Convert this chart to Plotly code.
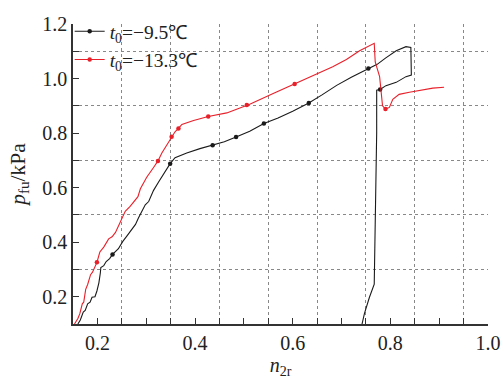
import plotly.graph_objects as go

# t0 = -9.5 C (black)
black_x = [0.160, 0.165, 0.171, 0.175, 0.180, 0.185, 0.189, 0.195, 0.199, 0.203, 0.206, 0.207, 0.213,
           0.218, 0.225, 0.231, 0.243, 0.252, 0.261, 0.269, 0.278, 0.284, 0.291, 0.298, 0.305, 0.315,
           0.325, 0.335, 0.343, 0.349, 0.359, 0.383, 0.410, 0.436, 0.460, 0.484, 0.512, 0.541, 0.570,
           0.600, 0.633, 0.660, 0.690, 0.720, 0.755, 0.773, 0.790, 0.812, 0.832, 0.842, 0.843, 0.832,
           0.812, 0.791, 0.779, 0.772, 0.772, 0.770, 0.767, 0.757, 0.747, 0.742]
black_y = [0.100, 0.115, 0.144, 0.150, 0.174, 0.180, 0.198, 0.200, 0.221, 0.251, 0.287, 0.307, 0.314,
           0.329, 0.340, 0.355, 0.376, 0.403, 0.424, 0.442, 0.465, 0.489, 0.513, 0.537, 0.549, 0.590,
           0.620, 0.650, 0.670, 0.688, 0.710, 0.727, 0.743, 0.755, 0.768, 0.786, 0.807, 0.835, 0.855,
           0.880, 0.910, 0.940, 0.975, 1.005, 1.037, 1.052, 1.075, 1.102, 1.117, 1.114, 1.013, 1.007,
           0.986, 0.974, 0.960, 0.957, 0.800, 0.500, 0.246, 0.197, 0.139, 0.100]
black_mark_x = [0.231, 0.349, 0.436, 0.484, 0.541, 0.633, 0.755, 0.779]
black_mark_y = [0.355, 0.688, 0.755, 0.786, 0.835, 0.910, 1.037, 0.960]

# t0 = -13.3 C (red)
red_x = [0.153, 0.160, 0.164, 0.169, 0.172, 0.176, 0.180, 0.186, 0.190, 0.194, 0.199, 0.205, 0.213,
         0.223, 0.230, 0.237, 0.243, 0.250, 0.257, 0.267, 0.278, 0.283, 0.288, 0.301, 0.315, 0.324,
         0.332, 0.342, 0.352, 0.359, 0.366, 0.373, 0.397, 0.427, 0.465, 0.506, 0.512, 0.560, 0.604,
         0.640, 0.682, 0.710, 0.737, 0.767, 0.769, 0.778, 0.781, 0.784, 0.790, 0.798, 0.805, 0.818,
         0.839, 0.866, 0.887, 0.910]
red_y = [0.100, 0.120, 0.138, 0.174, 0.180, 0.227, 0.245, 0.281, 0.290, 0.307, 0.326, 0.364, 0.382,
         0.412, 0.420, 0.436, 0.460, 0.489, 0.513, 0.531, 0.555, 0.567, 0.596, 0.638, 0.674, 0.698,
         0.727, 0.757, 0.787, 0.805, 0.817, 0.832, 0.846, 0.861, 0.874, 0.903, 0.906, 0.945, 0.980,
         1.010, 1.043, 1.070, 1.102, 1.129, 1.061, 1.007, 0.960, 0.900, 0.888, 0.894, 0.924, 0.942,
         0.950, 0.960, 0.965, 0.968]
red_mark_x = [0.199, 0.324, 0.352, 0.366, 0.427, 0.506, 0.604, 0.790]
red_mark_y = [0.326, 0.698, 0.787, 0.817, 0.861, 0.903, 0.980, 0.888]

legend_names = ["<i>t</i><sub>0</sub>=−9.5℃", "<i>t</i><sub>0</sub>=−13.3℃"]
colors = ["#1a1a1a", "#e8202a"]

x_tickvals = [round(0.15 + 0.05 * i, 2) for i in range(18)]
x_labels = {0.2: "0.2", 0.4: "0.4", 0.6: "0.6", 0.8: "0.8", 1.0: "1.0"}
x_ticktext = [x_labels.get(v, "") for v in x_tickvals]
x_gridvals = [0.25, 0.35, 0.45, 0.55, 0.65, 0.75, 0.85, 0.95, 1.0]
y_tickvals = [round(0.1 + 0.1 * i, 2) for i in range(12)]
y_ticktext = [("%.1f" % v) if round(v * 10) % 2 == 0 else "" for v in y_tickvals]
y_gridvals = [0.3, 0.5, 0.7, 0.9, 1.1, 1.2]

FONT = "Times New Roman, Liberation Serif, serif"

fig = go.Figure()
for xs, ys, mx, my, c, nm in [(black_x, black_y, black_mark_x, black_mark_y, colors[0], legend_names[0]),
                              (red_x, red_y, red_mark_x, red_mark_y, colors[1], legend_names[1])]:
    fig.add_trace(go.Scatter(x=xs, y=ys, mode="lines", line=dict(color=c, width=1.1),
                             showlegend=False, hoverinfo="skip"))
    fig.add_trace(go.Scatter(x=mx, y=my, mode="markers", marker=dict(color=c, size=4.5),
                             showlegend=False))
    fig.add_trace(go.Scatter(x=[None], y=[None], mode="lines+markers", name=nm,
                             line=dict(color=c, width=1.1), marker=dict(color=c, size=4.5)))

fig.update_layout(
    width=504, height=382,
    margin=dict(l=73, r=16, t=16, b=58),
    paper_bgcolor="white", plot_bgcolor="white",
    font=dict(family=FONT, size=20, color="#222"),
    legend=dict(x=-0.008, y=1.04, xanchor="left", yanchor="top", bgcolor="rgba(0,0,0,0)",
                font=dict(size=19.5, family=FONT, color="#222"), tracegroupgap=0),
    showlegend=True,
)
fig.update_xaxes(
    range=[0.15, 1.0], showline=True, linecolor="#333", linewidth=1.5, mirror=False,
    tickmode="array", tickvals=x_tickvals, ticktext=x_ticktext,
    ticks="inside", ticklen=6, tickcolor="#333", showgrid=False, zeroline=False,
    tickfont=dict(family=FONT, size=20),
    minor=dict(tickmode="array", tickvals=x_gridvals, ticks="", showgrid=True,
               gridcolor="#888", griddash="dot", gridwidth=1),
    title=dict(text="<i>n</i><sub>2r</sub>", font=dict(size=20, family=FONT), standoff=0),
    automargin=False,
)
fig.update_yaxes(
    range=[0.1, 1.2], showline=True, linecolor="#333", linewidth=1.5, mirror=False,
    tickmode="array", tickvals=y_tickvals, ticktext=y_ticktext,
    ticks="inside", ticklen=6, tickcolor="#333", showgrid=False, zeroline=False,
    tickfont=dict(family=FONT, size=20),
    minor=dict(tickmode="array", tickvals=y_gridvals, ticks="", showgrid=True,
               gridcolor="#888", griddash="dot", gridwidth=1),
    title=dict(text="<i>p</i><sub>fu</sub>/kPa", font=dict(size=21.5, family=FONT), standoff=11),
    automargin=False,
)
fig.write_html("out.html", config={"displayModeBar": False},
               post_script="document.body.style.margin='0';")
